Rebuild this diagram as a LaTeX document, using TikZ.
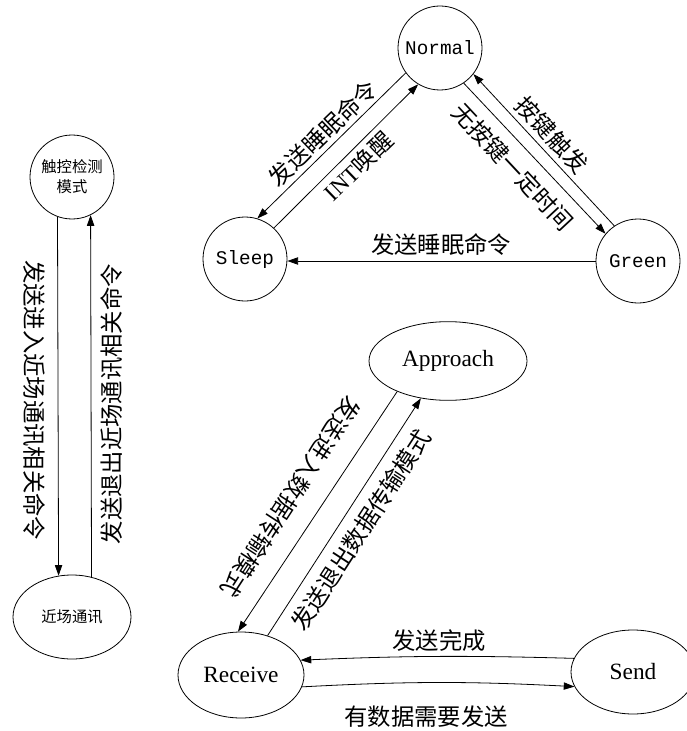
\documentclass[tikz,border=0pt]{standalone}
\usepackage{fontspec}
\setmainfont{Liberation Serif}
\newfontfamily\cjk{Noto Sans CJK SC}
\newfontfamily\monof{Liberation Mono}
\usetikzlibrary{arrows.meta,shapes.geometric}
\begin{document}
\begin{tikzpicture}[x=0.75pt,y=-0.75pt,
 st/.style={draw,circle,inner sep=0pt,minimum size=63pt,line width=0.6pt},
 el/.style={draw,ellipse,inner sep=0pt,line width=0.6pt},
 arr/.style={-{Triangle[length=8pt,width=5.5pt]},line width=0.6pt},
 lbl/.style={font=\cjk\fontsize{17.5}{19}\selectfont,inner sep=0pt},
 monotxt/.style={font=\monof\fontsize{14.5}{16}\selectfont},
 sertxt/.style={font=\fontsize{17.5}{20}\selectfont},
 smalltxt/.style={font=\cjk\fontsize{11.5}{15}\selectfont,align=center}]
\useasboundingbox (0,0) rectangle (686,731);

% states
\node[st,monotxt] (normal) at (440,48) {Normal};
\node[st,monotxt] (sleep) at (245,259) {Sleep};
\node[st,monotxt] (green) at (638,261) {Green};
\node[st,smalltxt] (touch) at (72,177) {触控检测\\模式};
\node[el,smalltxt,minimum width=88.5pt,minimum height=63pt] (nf) at (72,617) {近场通讯};
\node[el,sertxt,minimum width=118.5pt,minimum height=59pt] (approach) at (448,361) {Approach};
\node[el,sertxt,minimum width=94.5pt,minimum height=64.5pt] (receive) at (241,675) {Receive};
\node[el,sertxt,minimum width=93pt,minimum height=63pt] (send) at (633,672) {Send};

% top triangle
\draw[arr] (normal.216) -- (sleep.73.5);
\draw[arr] (sleep.47) -- (normal.239);
\draw[arr] (normal.304) -- (green.140);
\draw[arr] (green.124) -- (normal.322);
\draw[arr] (green.west) -- (sleep.east |- green.west);

\node[lbl,rotate=44] (l1) at (323,133) {发送睡眠命令};
\node[lbl,rotate=44] (l2) at (358,166) {{\fontspec{Liberation Serif}INT}唤醒};
\node[lbl,rotate=-47] (l3) at (513,167) {无按键一定时间};
\node[lbl,rotate=-47] (l4) at (552,135) {按键触发};
\node[lbl] (l5) at (441,245) {发送睡眠命令};

% left pair
\draw[arr] (touch.250.5) -- (nf.108.9);
\draw[arr] (nf.64.5) -- (touch.296.9);
\node[lbl,rotate=-90] (l6) at (34,400) {发送进入近场通讯相关命令};
\node[lbl,rotate=90] (l7) at (112,404) {发送退出近场通讯相关命令};

% bottom
\draw[arr] (approach.211) -- (receive.94);
\draw[arr] (receive.56) -- (approach.234);
\draw[arr] (send.167.5) to[bend right=2] (receive.14.4);
\draw[arr] (receive.349.7) to[bend left=3] (send.194);

\node[lbl,rotate=-123] (l8) at (291,497) {发送进入数据传输模式};
\node[lbl,rotate=57] (l9) at (361,530) {发送退出数据传输模式};
\node[lbl] (l10) at (439,641) {发送完成};
\node[lbl] (l11) at (426,717) {有数据需要发送};
\end{tikzpicture}
\end{document}
